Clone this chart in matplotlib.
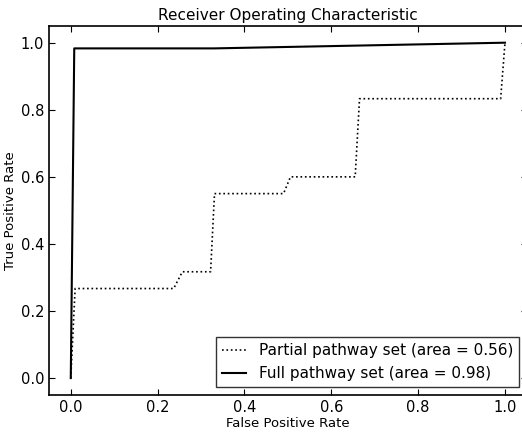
import matplotlib
matplotlib.use("Agg")
import matplotlib.pyplot as plt

# ROC points for the two pathway sets
fpr_partial = [0.0, 0.01, 0.237, 0.257, 0.322, 0.331, 0.49, 0.506, 0.655, 0.665, 0.99, 1.0]
tpr_partial = [0.0, 0.267, 0.267, 0.317, 0.317, 0.55, 0.55, 0.60, 0.60, 0.833, 0.833, 1.0]
auc_partial = 0.56

fpr_full = [0.0, 0.008, 0.33, 1.0]
tpr_full = [0.0, 0.983, 0.983, 1.0]
auc_full = 0.98

ticks = [0.0, 0.2, 0.4, 0.6, 0.8, 1.0]

fig = plt.figure(figsize=(5.22, 4.32), dpi=100)
ax = fig.add_axes([0.094, 0.086, 0.915, 0.854])

ax.plot(fpr_partial, tpr_partial, 'k:', lw=1.2,
        label='Partial pathway set (area = %0.2f)' % auc_partial)
ax.plot(fpr_full, tpr_full, 'k-', lw=1.5,
        label='Full pathway set (area = %0.2f)' % auc_full)

ax.set_xlim(-0.05, 1.05)
ax.set_ylim(-0.05, 1.05)
ax.set_xticks(ticks)
ax.set_yticks(ticks)
ax.tick_params(direction='in', top=True, right=True, length=4, labelsize=10.5)
for s in ax.spines.values():
    s.set_linewidth(1.2)

ax.set_xlabel('False Positive Rate', fontsize=9.5, labelpad=2)
ax.set_ylabel('True Positive Rate', fontsize=9.5, labelpad=3)
ax.set_title('Receiver Operating Characteristic', fontsize=11, pad=4)

leg = ax.legend(loc='lower right', fontsize=11, fancybox=False,
                handlelength=1.6, borderaxespad=0.5)
leg.get_frame().set_edgecolor('black')
leg.get_frame().set_linewidth(1.0)

fig.savefig('out.png', dpi=100)
